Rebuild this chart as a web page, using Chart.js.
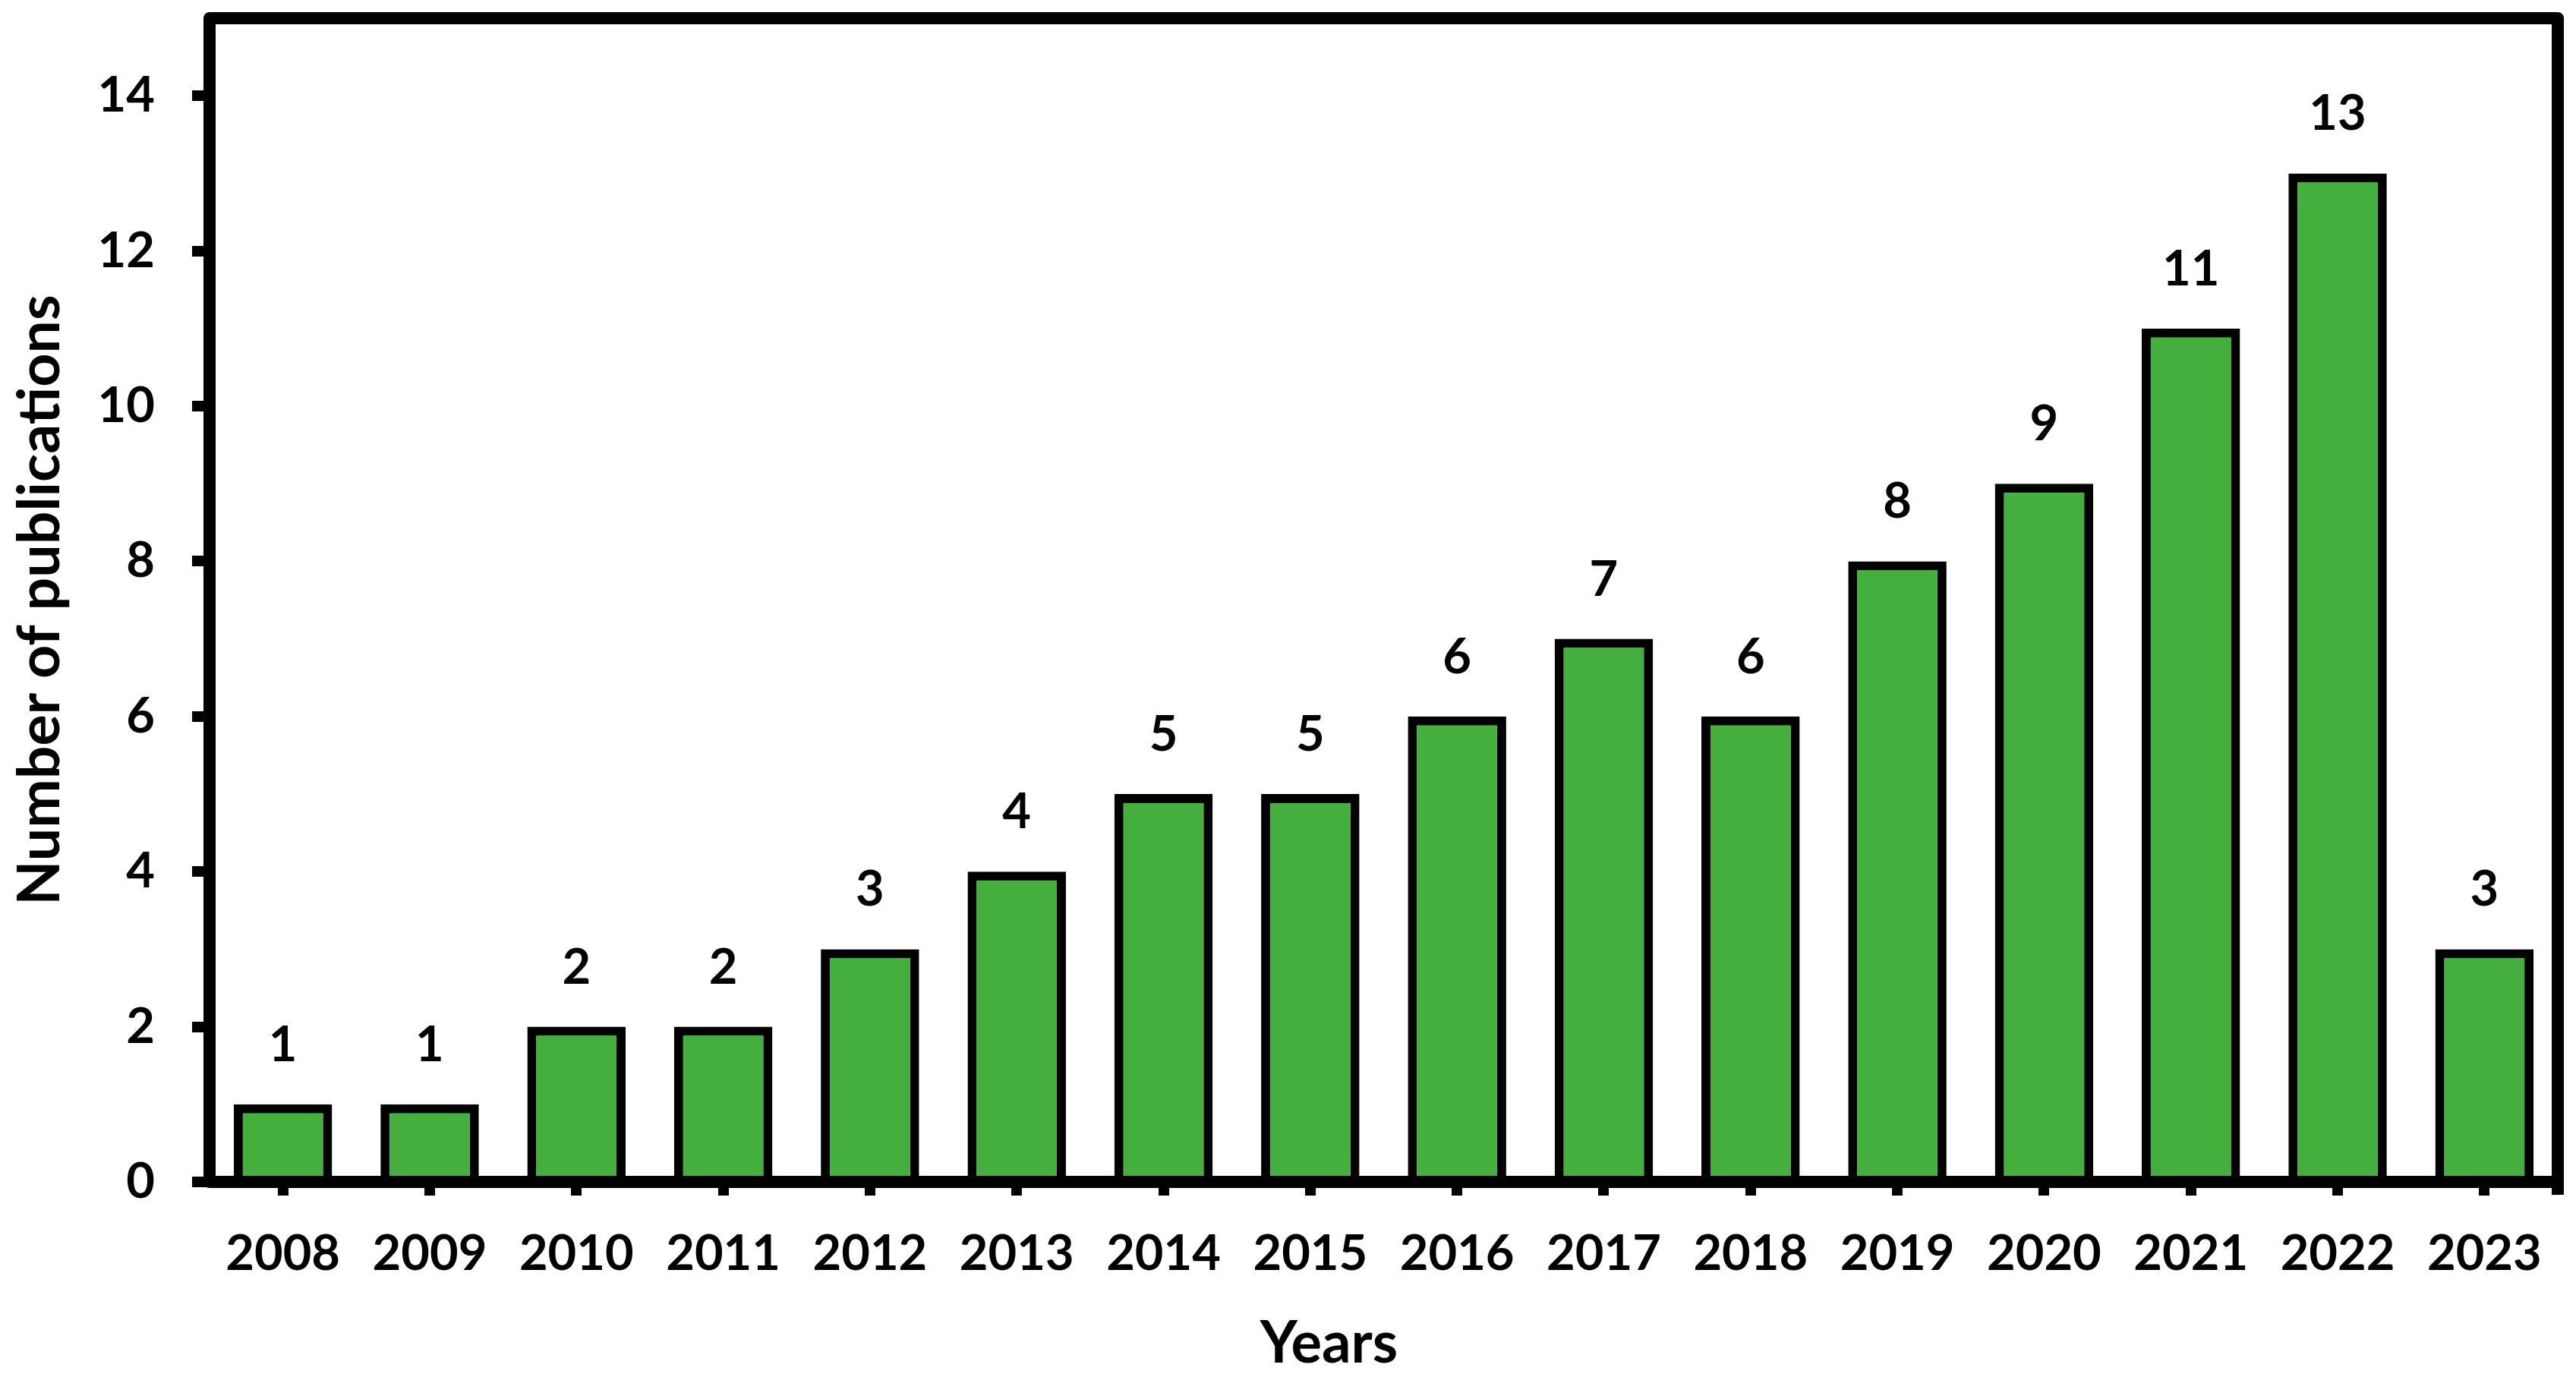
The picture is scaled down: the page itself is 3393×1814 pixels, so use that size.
<!DOCTYPE html>
<html>
<head>
<meta charset="utf-8">
<script src="https://cdn.jsdelivr.net/npm/chart.js@4/dist/chart.umd.min.js"></script>
<style>
  html, body { margin: 0; padding: 0; background: #ffffff; }
  #wrap { width: 3393px; height: 1814px; }
</style>
</head>
<body>
<div id="wrap"><canvas id="c" width="3393" height="1814"></canvas></div>
<script>
// ---- data ----
const years = ['2008','2009','2010','2011','2012','2013','2014','2015','2016','2017','2018','2019','2020','2021','2022','2023'];
const publications = [1, 1, 2, 2, 3, 4, 5, 5, 6, 7, 6, 8, 9, 11, 13, 3];
const yMin = 0;
const yMax = 15;
const yStep = 2;
const xTitle = 'Years';
const yTitle = 'Number of publications';

const FONT = 'Lato, "Open Sans", "DejaVu Sans", sans-serif';

const framePlugin = {
  id: 'frame',
  afterDatasetsDraw(chart) {
    const {ctx, chartArea: a} = chart;
    ctx.save();
    ctx.strokeStyle = '#000';
    ctx.lineWidth = 16;
    ctx.lineJoin = 'round';
    ctx.strokeRect(a.left, a.top, a.right - a.left, a.bottom - a.top);
    ctx.beginPath();
    ctx.lineCap = 'butt';
    ctx.moveTo(a.right, a.bottom);
    ctx.lineTo(a.right, a.bottom + 17);
    ctx.stroke();
    ctx.restore();
  }
};

const labelPlugin = {
  id: 'valueLabels',
  afterDatasetsDraw(chart) {
    const {ctx} = chart;
    const meta = chart.getDatasetMeta(0);
    const ds = chart.data.datasets[0];
    ctx.save();
    ctx.fillStyle = '#000';
    ctx.font = 'bold 65px ' + FONT;
    ctx.textAlign = 'center';
    ctx.textBaseline = 'alphabetic';
    meta.data.forEach((el, i) => {
      ctx.fillText(String(ds.data[i]), el.x, el.y - 57);
    });
    ctx.restore();
  }
};

const xTitlePlugin = {
  id: 'xTitle',
  afterDraw(chart) {
    const {ctx, chartArea: a} = chart;
    ctx.save();
    ctx.fillStyle = '#000';
    ctx.font = 'bold 76px ' + FONT;
    ctx.textAlign = 'center';
    ctx.textBaseline = 'alphabetic';
    ctx.fillText(xTitle, (a.left + a.right) / 2 - 72, 1795);
    ctx.restore();
  }
};

function noPad(scale) {
  scale.paddingTop = 0; scale.paddingBottom = 0;
  scale.paddingLeft = 0; scale.paddingRight = 0;
}

new Chart(document.getElementById('c'), {
  type: 'bar',
  data: {
    labels: years,
    datasets: [{
      data: publications,
      backgroundColor: '#44AF3C',
      borderColor: '#000000',
      borderWidth: 12,
      borderSkipped: 'start',
      barPercentage: 0.67,
      categoryPercentage: 1.0
    }]
  },
  options: {
    responsive: false,
    devicePixelRatio: 1,
    animation: false,
    layout: { padding: { top: 24, right: 24, left: 0, bottom: 0 } },
    plugins: {
      legend: { display: false },
      tooltip: { enabled: false },
      title: { display: false }
    },
    scales: {
      x: {
        offset: true,
        grid: { display: true, drawOnChartArea: false, drawTicks: true, offset: false, tickLength: 18, lineWidth: 14, color: '#000' },
        border: { display: false },
        ticks: { color: '#000', font: { family: FONT, size: 65, weight: 'bold' }, padding: 38, maxRotation: 0, autoSkip: false },
        title: { display: false },
        afterFit(scale) { scale.height = 257; noPad(scale); }
      },
      y: {
        min: yMin,
        max: yMax,
        grid: { display: true, drawOnChartArea: false, drawTicks: true, tickLength: 23, lineWidth: 14, color: '#000' },
        border: { display: false },
        ticks: { stepSize: yStep, includeBounds: false, color: '#000', font: { family: FONT, size: 65, weight: 'bold' }, padding: 49 },
        title: { display: true, text: yTitle, color: '#000', font: { family: FONT, size: 77, weight: 'bold' }, padding: { top: 7, bottom: 0 } },
        afterFit(scale) { scale.width = 276; noPad(scale); }
      }
    }
  },
  plugins: [framePlugin, labelPlugin, xTitlePlugin]
});
</script>
</body>
</html>
